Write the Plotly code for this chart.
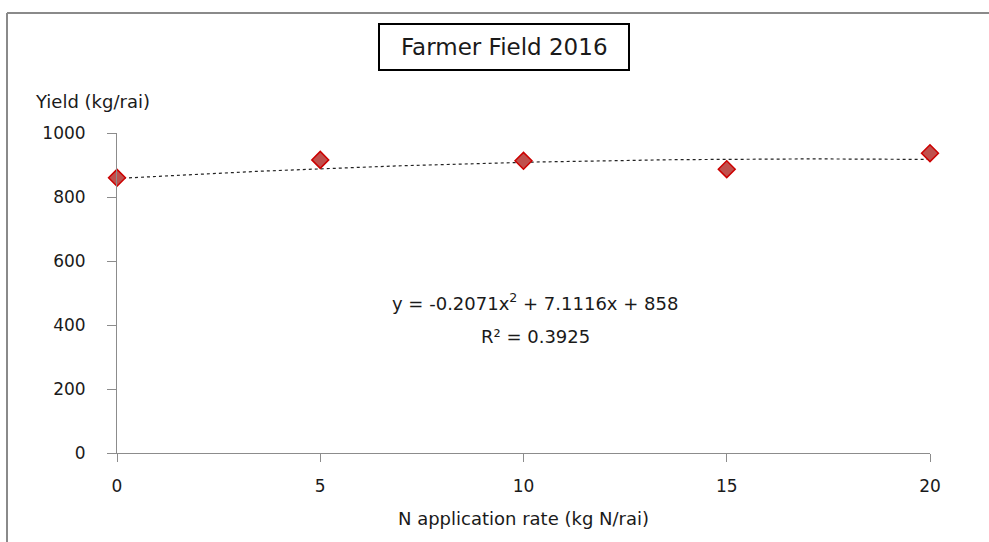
import numpy as np
import plotly.graph_objects as go

# Data
n_rate = [0, 5, 10, 15, 20]
yield_kg = [860, 916, 913, 887, 937]

# Polynomial trendline coefficients as printed on the chart (a*x^2 + b*x + c)
trend_coef = [-0.2071, 7.1116, 858]
equation_text = "y = -0.2071x<sup>2</sup> + 7.1116x + 858"
r2_text = "R² = 0.3925"

x_ticks = [0, 5, 10, 15, 20]
y_ticks = [0, 200, 400, 600, 800, 1000]

FONT = "DejaVu Sans"
TXT = "#1a1a1a"
AX = "#8c8c8c"

xt = np.linspace(0, 20, 101)
yt = np.polyval(trend_coef, xt)

fig = go.Figure()
fig.add_trace(go.Scatter(
    x=xt, y=yt, mode="lines",
    line=dict(color="#222222", width=1.2, dash="dot"),
    hoverinfo="skip", showlegend=False, cliponaxis=False,
))
fig.add_trace(go.Scatter(
    x=n_rate, y=yield_kg, mode="markers",
    marker=dict(symbol="diamond", size=13, color="#C0504D",
                line=dict(color="#CC0000", width=1.5)),
    showlegend=False, cliponaxis=False,
))

L, R, T, B = 117, 59, 133, 89
W, H = 989, 542
pw, ph = W - L - R, H - T - B

def px(xp):
    return (xp - L) / pw

def py(yp):
    return (H - B - yp) / ph

fig.update_layout(
    width=W, height=H,
    margin=dict(l=L, r=R, t=T, b=B),
    paper_bgcolor="white", plot_bgcolor="white",
    font=dict(family=FONT, size=16, color=TXT),
    xaxis=dict(
        range=[0, 20], tickvals=x_ticks, showgrid=False, zeroline=False,
        showline=True, linecolor=AX, linewidth=1,
        ticks="outside", ticklen=8, tickcolor=AX, tickwidth=1,
        ticklabelstandoff=10,
        tickfont=dict(family=FONT, size=17, color=TXT),
        title=dict(text="N application rate (kg N/rai)",
                   font=dict(family=FONT, size=18, color=TXT), standoff=16),
    ),
    yaxis=dict(
        range=[0, 1000], tickvals=y_ticks, showgrid=False, zeroline=False,
        showline=True, linecolor=AX, linewidth=1,
        ticks="outside", ticklen=9, tickcolor=AX, tickwidth=1,
        ticklabelstandoff=18,
        tickfont=dict(family=FONT, size=17, color=TXT),
    ),
    shapes=[
        # outer chart frame (left & top edges visible)
        dict(type="line", xref="paper", yref="paper",
             x0=px(7), x1=px(7), y0=py(13), y1=py(560),
             line=dict(color="#8a8a8a", width=2)),
        dict(type="line", xref="paper", yref="paper",
             x0=px(7), x1=px(1000), y0=py(13), y1=py(13),
             line=dict(color="#8a8a8a", width=2)),
        # title box
        dict(type="rect", xref="paper", yref="paper",
             x0=px(379), x1=px(629), y0=py(70), y1=py(24),
             line=dict(color="black", width=2), fillcolor="white"),
    ],
    annotations=[
        dict(text="Farmer Field 2016", xref="paper", yref="paper",
             x=px(504), y=py(47), showarrow=False,
             font=dict(family=FONT, size=23, color=TXT),
             xanchor="center", yanchor="middle"),
        dict(text="Yield (kg/rai)", xref="paper", yref="paper",
             x=px(33), y=py(102), showarrow=False,
             font=dict(family=FONT, size=18, color=TXT),
             xanchor="left", yanchor="middle"),
        dict(text=equation_text, xref="paper", yref="paper",
             x=px(535), y=py(302), showarrow=False,
             font=dict(family=FONT, size=18, color=TXT),
             xanchor="center", yanchor="middle"),
        dict(text=r2_text, xref="paper", yref="paper",
             x=px(535), y=py(336), showarrow=False,
             font=dict(family=FONT, size=18, color=TXT),
             xanchor="center", yanchor="middle"),
    ],
)

fig.write_html("out.html", config={"displayModeBar": False},
               post_script="document.body.style.margin='0';")
